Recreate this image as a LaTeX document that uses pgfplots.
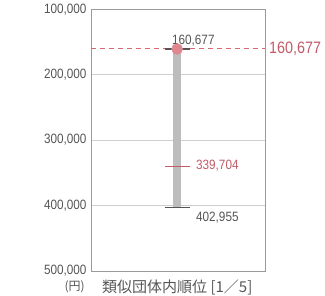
\documentclass[border=0pt]{standalone}
\usepackage{pgfplots}
\pgfplotsset{compat=1.18}
\usepackage{fontspec}
\setmainfont{Liberation Sans}
\newfontfamily\jp{Noto Sans CJK JP}
\definecolor{axgray}{HTML}{9A9A9A}
\definecolor{gridgray}{HTML}{CFCFCF}
\definecolor{bargray}{HTML}{BDBDBD}
\definecolor{ticktext}{HTML}{555555}
\definecolor{dotred}{HTML}{E0868E}
\definecolor{dashred}{HTML}{D86A76}
\definecolor{redtext}{HTML}{C25A68}
\definecolor{darktick}{HTML}{555555}
\newcommand{\cn}[1]{\scalebox{0.87}[1]{#1}}
\begin{document}
\begin{tikzpicture}
\path (0,0) rectangle (325pt,296pt);
\begin{axis}[
  at={(91pt,25pt)}, anchor=south west,
  scale only axis, width=174pt, height=261.7pt,
  xmin=0, xmax=1, ymin=100000, ymax=500000,
  y dir=reverse,
  xtick=\empty,
  scaled y ticks=false,
  ytick={100000,200000,300000,400000,500000},
  yticklabels={{\cn{100,000}},{\cn{200,000}},{\cn{300,000}},{\cn{400,000}},{\cn{500,000}}},
  ymajorgrids, grid style={gridgray, line width=0.6pt},
  major tick length=0pt,
  axis line style={axgray, line width=0.9pt},
  yticklabel style={font=\fontsize{13.5}{14}\selectfont, text=ticktext, xshift=-1pt},
  clip=false,
]
% gray range bar
\addplot[bargray, line width=8pt, no markers] coordinates {(0.495,160677) (0.495,402955)};
% dashed red line for the municipality value
\addplot[dashred, dashed, dash pattern=on 5pt off 4pt, line width=1pt, no markers] coordinates {(0,160677) (1,160677)};
% small ticks: maximum (dark), average (red), minimum (dark)
\addplot[darktick, line width=1.2pt, no markers] coordinates {(0.423,160677) (0.567,160677)};
\addplot[redtext, line width=1.2pt, no markers] coordinates {(0.423,339704) (0.567,339704)};
\addplot[darktick, line width=1.2pt, no markers] coordinates {(0.423,402955) (0.567,402955)};
% dot
\addplot[only marks, mark=*, mark size=5.5pt, mark options={fill=dotred, draw=dotred}] coordinates {(0.495,160677)};
% labels
\node[anchor=south west, inner sep=0pt, text=darktick, font=\fontsize{13.5}{14}\selectfont, yshift=3pt] at (axis cs:0.465,160677) {\cn{160,677}};
\node[anchor=west, inner sep=0pt, text=redtext, font=\fontsize{13.5}{14}\selectfont] at (axis cs:0.603,339704) {\cn{339,704}};
\node[anchor=north west, inner sep=0pt, text=darktick, font=\fontsize{13.5}{14}\selectfont, yshift=-4pt] at (axis cs:0.603,402955) {\cn{402,955}};
\node[anchor=west, inner sep=0pt, text=redtext, font=\fontsize{16.5}{17}\selectfont, xshift=4pt] at (axis cs:1,160677) {\cn{160,677}};
\node[anchor=east, inner sep=0pt, text=ticktext, font=\fontsize{12}{13}\jp, xshift=-6pt, yshift=-16pt] at (rel axis cs:0,0) {(円)};
\node[anchor=west, inner sep=0pt, text=ticktext, font=\fontsize{15}{16}\jp, xshift=11pt, yshift=-16pt] at (rel axis cs:0,0) {類似団体内順位 [1／5]};
\end{axis}
\end{tikzpicture}
\end{document}
